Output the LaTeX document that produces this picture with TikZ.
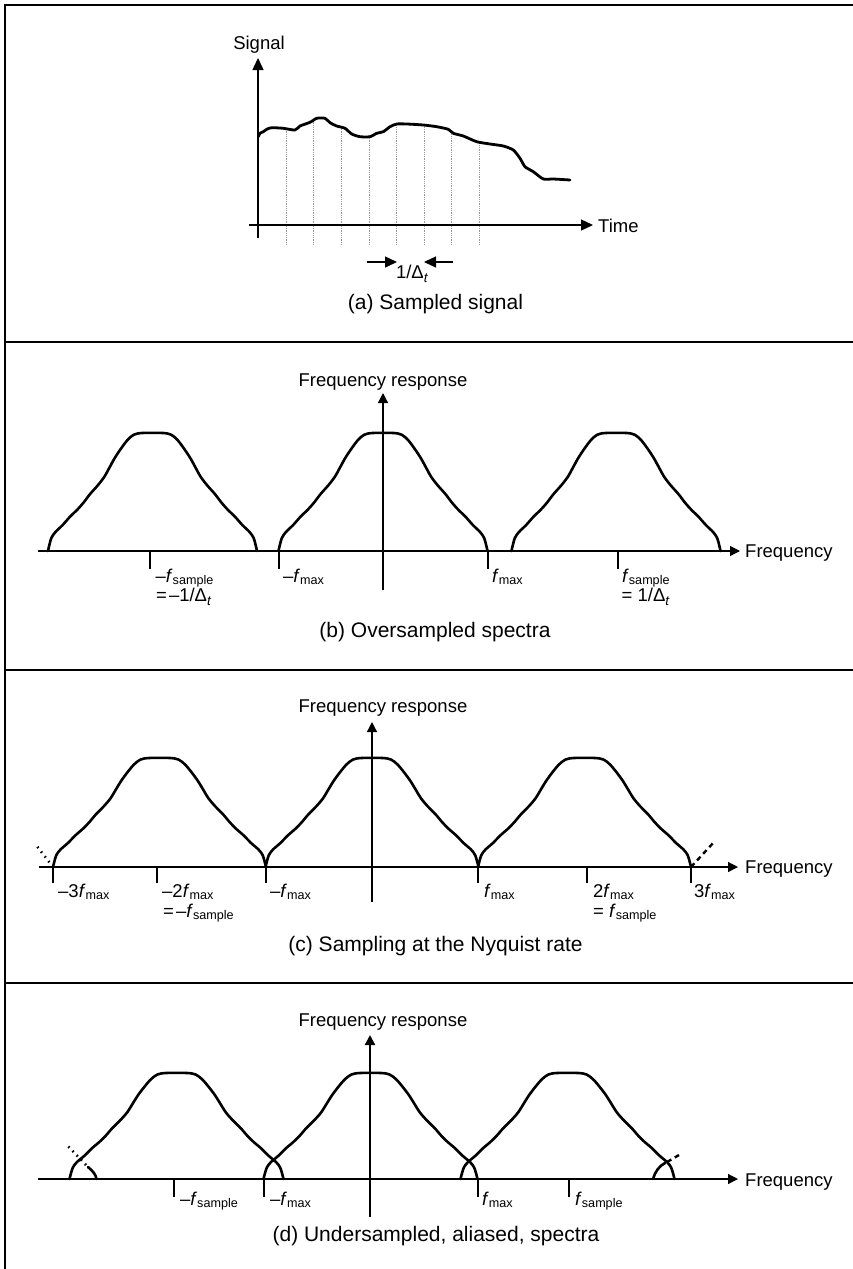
\documentclass[tikz,border=0pt]{standalone}
\usepackage{fontspec}
\setmainfont{Liberation Sans}
\usetikzlibrary{arrows.meta}

% lowered small text for subscripts
\newcommand\lo[1]{\raisebox{-2.5pt}{\fontsize{12.6}{13}\selectfont #1}}
\newcommand\lot{\raisebox{-4pt}{\fontsize{13.5}{14}\selectfont\textit{t}}}
\newcommand\fv{\textit{f}}

% one spectral lobe: centre x, base y, half width, height
\newcommand\lobe[4]{%
  \draw[spec, shift={(#1,#2)}, xscale=#3, yscale=-#4]
    plot[smooth, tension=0.5] coordinates {
      (-1,0) (-0.99,0.04) (-0.968,0.11) (-0.93,0.16) (-0.86,0.22)
      (-0.79,0.29) (-0.72,0.35) (-0.66,0.41) (-0.6,0.48) (-0.52,0.56)
      (-0.46,0.63) (-0.41,0.71) (-0.36,0.79) (-0.3,0.87) (-0.24,0.94)
      (-0.18,0.985) (-0.1,1) (0.1,1) (0.18,0.985) (0.24,0.94) (0.3,0.87)
      (0.36,0.79) (0.41,0.71) (0.46,0.63) (0.52,0.56) (0.6,0.48)
      (0.66,0.41) (0.72,0.35) (0.79,0.29) (0.86,0.22) (0.93,0.16)
      (0.968,0.11) (0.99,0.04) (1,0)};}

\tikzset{
  lbl/.style={font=\fontsize{18.5}{19}\selectfont, inner sep=0pt},
  captext/.style={font=\fontsize{21}{25}\selectfont, inner sep=0pt},
  axbig/.style={line width=1.4pt, -{Triangle[length=12pt,width=11pt]}},
  ax/.style={line width=1.3pt, -{Triangle[length=10pt,width=10pt]}},
  spec/.style={line width=2.6pt, line join=round, line cap=round},
  frameline/.style={line width=1.6pt},
  tickline/.style={line width=1.1pt},
  samp/.style={gray!80, line width=0.8pt, dash pattern=on 0.8pt off 1pt},
  dotext/.style={line width=2.6pt, dash pattern=on 1.5pt off 4.5pt},
  dashext/.style={line width=2.4pt, dash pattern=on 5pt off 4pt},
}

\begin{document}
\begin{tikzpicture}[x=1pt, y=-1pt]
\useasboundingbox (0,0) rectangle (853,1269);

% frame and panel separators
\draw[frameline] (5,1269) -- (5,5) -- (853,5);
\foreach \sy in {342,670,983} \draw[frameline] (5,\sy) -- (853,\sy);

% ---------------- (a) sampled signal ----------------
\begin{scope}
  \clip plot[smooth, tension=0.4] coordinates {
    (258.3,136.7) (260,133.3) (263.3,131.7) (266.7,129.3) (271.7,127.7)
    (283.3,128.3) (295,130) (300,126) (310,122.3) (316.7,118.3) (325,118.3)
    (330,122.7) (336.7,126) (345,128.3) (351.7,134) (360,136.7) (370,136.7)
    (376.7,133.3) (383.3,131.7) (390,126.7) (396.7,124) (406.7,124)
    (423.3,125) (436.7,126.7) (448.3,129.3) (453.3,133.3) (463.3,136)
    (476.7,141.7) (490,144) (503.3,146) (513.3,150) (520,158.3) (525,166.7)
    (533.3,171.7) (543.3,179) (553.3,179) (570,180)}
    -- (570,250) -- (258,250) -- cycle;
  \foreach \sx in {286,313.7,341,369,396.7,424,451.7,479}
    \draw[samp] (\sx,100) -- (\sx,245);
\end{scope}
\draw[line width=2.8pt, line join=round, line cap=round]
  plot[smooth, tension=0.4] coordinates {
    (258.3,136.7) (260,133.3) (263.3,131.7) (266.7,129.3) (271.7,127.7)
    (283.3,128.3) (295,130) (300,126) (310,122.3) (316.7,118.3) (325,118.3)
    (330,122.7) (336.7,126) (345,128.3) (351.7,134) (360,136.7) (370,136.7)
    (376.7,133.3) (383.3,131.7) (390,126.7) (396.7,124) (406.7,124)
    (423.3,125) (436.7,126.7) (448.3,129.3) (453.3,133.3) (463.3,136)
    (476.7,141.7) (490,144) (503.3,146) (513.3,150) (520,158.3) (525,166.7)
    (533.3,171.7) (543.3,179) (553.3,179) (570,180)};

\coordinate (aO) at (258,238);
\coordinate (aTop) at (258,58);
\coordinate (aL) at (249,225);
\coordinate (aR) at (593,225);
\draw[axbig] (aO) -- (aTop);
\draw[axbig] (aL) -- (aR);
\node[lbl, anchor=base] (sigl) at (259,49) {Signal};
\node[lbl, anchor=base west] (timel) at (598,232) {Time};

\node[lbl, anchor=base] (dtl) at (412,278) {1/Δ\lot};
\coordinate (dtA) at (367,262);
\coordinate (dtB) at (453,262);
\draw[axbig] (dtA) -- (397,262);
\draw[axbig] (dtB) -- (424,262);
\node[captext, anchor=base] (capa) at (435.5,309) {(a) Sampled signal};

% ---------------- (b) oversampled spectra ----------------
\lobe{152.5}{551}{104.5}{118}
\lobe{383}{551}{104.5}{118}
\lobe{616}{551}{104.5}{118}
\coordinate (bO) at (383,590);
\coordinate (bTop) at (383,393);
\coordinate (bL) at (38,551);
\coordinate (bR) at (740,551);
\draw[ax] (bO) -- (bTop);
\draw[ax] (bL) -- (bR);
\node[lbl, anchor=base] (bfr) at (383,386) {Frequency response};
\node[lbl, anchor=base west] (bfq) at (745,557.5) {Frequency};
\foreach \tx in {150,279,488,618} \draw[tickline] (\tx,551) -- (\tx,569);
\node[lbl, anchor=base west] (b1) at (155.5,582) {–\fv\lo{sample}};
\node[lbl, anchor=base west] (b1b) at (156,601) {=\kern2pt–1/Δ\lot};
\node[lbl, anchor=base west] (b2) at (283,582) {–\fv\lo{max}};
\node[lbl, anchor=base west] (b3) at (492,582) {\fv\lo{max}};
\node[lbl, anchor=base west] (b4) at (622,582) {\fv\lo{sample}};
\node[lbl, anchor=base west] (b4b) at (621.5,601) {= 1/Δ\lot};
\node[captext, anchor=base] (capb) at (435,637) {(b) Oversampled spectra};

% ---------------- (c) Nyquist rate ----------------
\lobe{159.5}{867}{106.5}{109}
\lobe{372}{867}{106.5}{109}
\lobe{584.5}{867}{106.5}{109}
\draw[dotext] (53,867) -- (36,845);
\draw[dashext] (691,867) -- (714,842);
\coordinate (cO) at (372,902);
\coordinate (cTop) at (372,722);
\coordinate (cL) at (39,867);
\coordinate (cR) at (738,867);
\draw[ax] (cO) -- (cTop);
\draw[ax] (cL) -- (cR);
\node[lbl, anchor=base] (cfr) at (383,712) {Frequency response};
\node[lbl, anchor=base west] (cfq) at (745,873.5) {Frequency};
\foreach \tx in {53,157,266,478,587,691} \draw[tickline] (\tx,867) -- (\tx,883);
\node[lbl, anchor=base west] (c1) at (58,897) {–3\fv\lo{max}};
\node[lbl, anchor=base west] (c2) at (162,897) {–2\fv\lo{max}};
\node[lbl, anchor=base west] (c2b) at (163,917) {=\kern2pt–\fv\lo{sample}};
\node[lbl, anchor=base west] (c3) at (270,897) {–\fv\lo{max}};
\node[lbl, anchor=base west] (c4) at (484,897) {\fv\lo{max}};
\node[lbl, anchor=base west] (c5) at (593,897) {2\fv\lo{max}};
\node[lbl, anchor=base west] (c5b) at (593,917) {= \fv\lo{sample}};
\node[lbl, anchor=base west] (c6) at (694,897) {3\fv\lo{max}};
\node[captext, anchor=base] (capc) at (435.5,951) {(c) Sampling at the Nyquist rate};

% ---------------- (d) undersampled spectra ----------------
\lobe{176.5}{1179}{107}{106}
\lobe{370.5}{1179}{107}{106}
\lobe{567.5}{1179}{107}{106}
% aliased fragments from the neighbouring lobes
\draw[dotext] (86,1165) -- (66,1144);
\draw[spec] (88,1167) .. controls (93,1171) and (96,1175) .. (96.5,1179);
\draw[spec] (653,1179) .. controls (655,1172) and (659,1166) .. (665,1163);
\draw[dashext] (667,1162) -- (679,1155);
\coordinate (dO) at (370,1217);
\coordinate (dTop) at (370,1035);
\coordinate (dL) at (38,1179);
\coordinate (dR) at (738,1179);
\draw[ax, line width=2.2pt] (dO) -- (dTop);
\draw[ax] (dL) -- (dR);
\node[lbl, anchor=base] (dfr) at (383,1026) {Frequency response};
\node[lbl, anchor=base west] (dfq) at (745,1186) {Frequency};
\foreach \tx in {174,264,478,569} \draw[tickline] (\tx,1179) -- (\tx,1197);
\node[lbl, anchor=base west] (d1) at (180,1205) {–\fv\lo{sample}};
\node[lbl, anchor=base west] (d2) at (270,1205) {–\fv\lo{max}};
\node[lbl, anchor=base west] (d3) at (482,1205) {\fv\lo{max}};
\node[lbl, anchor=base west] (d4) at (575,1205) {\fv\lo{sample}};
\node[captext, anchor=base] (capd) at (436,1241) {(d) Undersampled, aliased, spectra};
\end{tikzpicture}
\end{document}
